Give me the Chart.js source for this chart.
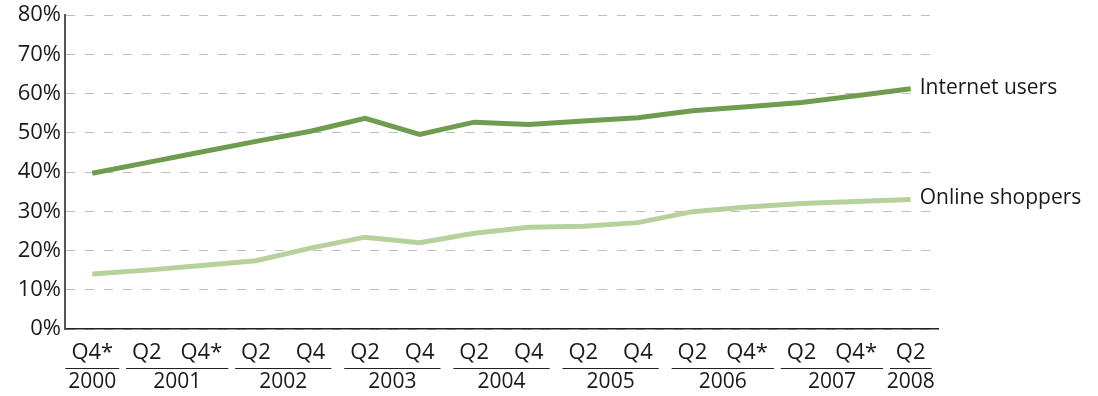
<!DOCTYPE html>
<html>
<head>
<meta charset="utf-8">
<script src="https://cdn.jsdelivr.net/npm/chart.js@4/dist/chart.umd.min.js"></script>
<style>
    html, body { margin: 0; padding: 0; background: #fff; }
    #wrap { width: 1098px; height: 396px; }
</style>
</head>
<body>
<div id="wrap"><canvas id="chart"></canvas></div>
<script>
const quarters = ['Q4*', 'Q2', 'Q4*', 'Q2', 'Q4', 'Q2', 'Q4', 'Q2', 'Q4', 'Q2', 'Q4', 'Q2', 'Q4*', 'Q2', 'Q4*', 'Q2'];
const years = ['2000', '2001', '2001', '2002', '2002', '2003', '2003', '2004', '2004', '2005', '2005', '2006', '2006', '2007', '2007', '2008'];
const internetUsers = [39.7, 42.4, 45.1, 47.8, 50.4, 53.7, 49.6, 52.7, 52.1, 53.0, 53.8, 55.6, 56.6, 57.7, 59.4, 61.2];
const onlineShoppers = [14.0, 15.0, 16.2, 17.4, 20.6, 23.4, 22.0, 24.4, 25.9, 26.2, 27.1, 29.9, 31.1, 32.0, 32.5, 33.0];
const yTicks = [0, 10, 20, 30, 40, 50, 60, 70, 80];

const FONT = '"Open Sans", "Noto Sans", sans-serif';
const DARK_GREEN = '#6f9c4e';
const LIGHT_GREEN = '#b7d19c';

// labels at the end of each line
const endLabels = {
    id: 'endLabels',
    afterDatasetsDraw(chart) {
        const ctx = chart.ctx;
        ctx.save();
        ctx.font = '21px ' + FONT;
        ctx.fillStyle = '#1a1a1a';
        ctx.textAlign = 'left';
        ctx.textBaseline = 'middle';
        chart.data.datasets.forEach((ds, i) => {
            const pts = chart.getDatasetMeta(i).data;
            const last = pts[pts.length - 1];
            ctx.fillText(ds.label, last.x + 9, last.y - 1);
        });
        ctx.restore();
    }
};

// year row with underline under each group of quarters
const yearRow = {
    id: 'yearRow',
    afterDraw(chart) {
        const ctx = chart.ctx;
        const x = chart.scales.x;
        const groups = [];
        years.forEach((y, i) => {
            const g = groups[groups.length - 1];
            if (g && g.year === y) g.to = i;
            else groups.push({ year: y, from: i, to: i });
        });
        ctx.save();
        groups.forEach(g => {
            ctx.font = '22px ' + FONT;
            const x0 = x.getPixelForValue(g.from);
            const x1 = x.getPixelForValue(g.to);
            const w0 = ctx.measureText(quarters[g.from]).width;
            const w1 = ctx.measureText(quarters[g.to]).width;
            const left = x0 - w0 / 2 - 6;
            const right = x1 + w1 / 2 + 6;
            ctx.strokeStyle = '#222';
            ctx.lineWidth = 1.2;
            ctx.beginPath();
            ctx.moveTo(left, 368.5);
            ctx.lineTo(right, 368.5);
            ctx.stroke();
            ctx.fillStyle = '#1a1a1a';
            ctx.textAlign = 'center';
            ctx.textBaseline = 'middle';
            ctx.font = '21px ' + FONT;
            ctx.fillText(g.year, (left + right) / 2, 382);
        });
        ctx.restore();
    }
};

new Chart(document.getElementById('chart'), {
    type: 'line',
    data: {
        labels: quarters,
        datasets: [
            {
                label: 'Internet users',
                data: internetUsers,
                borderColor: DARK_GREEN,
                borderWidth: 5,
                pointRadius: 0,
                tension: 0
            },
            {
                label: 'Online shoppers',
                data: onlineShoppers,
                borderColor: LIGHT_GREEN,
                borderWidth: 5,
                pointRadius: 0,
                tension: 0
            }
        ]
    },
    options: {
        responsive: true,
        maintainAspectRatio: false,
        animation: false,
        layout: { padding: { top: 14, right: 160, left: 0, bottom: 0 } },
        plugins: {
            legend: { display: false },
            tooltip: { enabled: false }
        },
        scales: {
            x: {
                offset: true,
                grid: { display: false },
                border: { display: true, color: '#222', width: 1.5 },
                ticks: {
                    color: '#1a1a1a',
                    font: { family: FONT, size: 22 },
                    maxRotation: 0,
                    autoSkip: false,
                    padding: 3
                },
                afterFit(scale) { scale.height = 67; }
            },
            y: {
                min: 0,
                max: 80,
                afterBuildTicks(scale) { scale.ticks = yTicks.map(v => ({ value: v })); },
                grid: {
                    color: '#bdbdbd',
                    lineWidth: 1,
                    drawTicks: false
                },
                border: { display: true, color: '#555', width: 2, dash: [9, 10] },
                ticks: {
                    color: '#1a1a1a',
                    font: { family: FONT, size: 22, lineHeight: 1 },
                    padding: 4,
                    callback: v => v + '%'
                },
                afterFit(scale) { scale.width = 65; }
            }
        }
    },
    plugins: [endLabels, yearRow]
});
</script>
</body>
</html>
